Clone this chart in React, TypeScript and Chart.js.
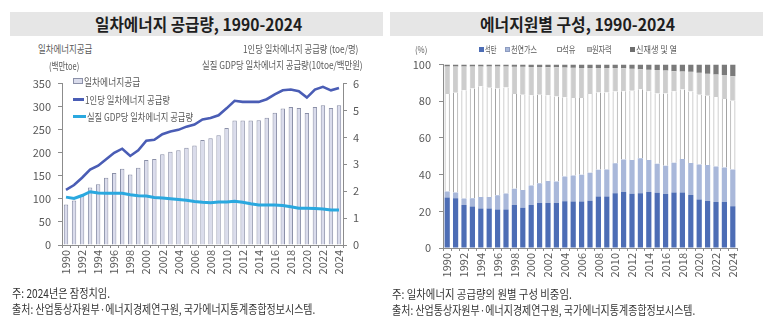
import React, { useEffect, useLayoutEffect, useRef } from 'react';
import { Chart, registerables } from 'chart.js';
Chart.register(...registerables);

const FONT = '"Noto Sans CJK KR", "Noto Sans", sans-serif';
const AXIS = '#8c8c8c';
const TICK = '#595959';

const years = ['1990','1991','1992','1993','1994','1995','1996','1997','1998','1999','2000','2001','2002','2003','2004','2005','2006','2007','2008','2009','2010','2011','2012','2013','2014','2015','2016','2017','2018','2019','2020','2021','2022','2023','2024'];

// 일차에너지공급 (백만toe)
const supply = [88,96.5,107,124.5,131.5,146,156,165.5,153,167.5,184.5,186.5,197,202,205.5,211,215.5,227.5,231.5,238,253.5,270,270,270,270.5,276,287,296,299.5,297,286,299.5,303,297,303];
// 1인당 일차에너지 공급량 (toe/명)
const perCapita = [2.05,2.23,2.5,2.8,2.95,3.19,3.43,3.58,3.31,3.52,3.88,3.91,4.12,4.22,4.28,4.4,4.48,4.67,4.72,4.82,5.08,5.36,5.32,5.32,5.32,5.42,5.6,5.75,5.78,5.72,5.48,5.78,5.88,5.75,5.84];
// 실질 GDP당 일차에너지 공급량 (10toe/백만원)
const perGdp = [1.78,1.73,1.84,1.98,1.93,1.92,1.92,1.92,1.87,1.83,1.82,1.77,1.75,1.72,1.69,1.66,1.62,1.59,1.57,1.6,1.6,1.63,1.59,1.53,1.49,1.49,1.49,1.47,1.42,1.37,1.37,1.36,1.34,1.3,1.3];

// 에너지원별 구성 (%)
const coal = [27.6,27.1,23.5,22.6,21.5,21.5,21.0,21.0,23.5,22.0,23.5,24.6,24.6,24.6,25.5,25.3,25.4,25.7,28.1,28.1,29.9,30.6,29.6,29.9,30.6,30.1,29.4,30.3,30.3,28.9,26.5,25.6,25.1,25.1,22.8];
const gas = [3.2,3.2,3.5,4.5,6.3,6.3,7.7,8.7,8.8,9.6,10.6,10.7,12.0,11.6,13.5,14.2,14.6,15.3,14.6,14.7,16.3,17.6,18.4,19.0,17.4,15.8,15.5,16.2,18.2,17.5,19.0,19.7,19.3,18.8,20.0];
const oil = [53.2,54.4,59.0,59.9,60.4,59.6,58.3,57.8,51.7,51.9,49.2,48.2,46.7,46.4,43.2,42.3,41.8,43.0,42.1,42.0,39.1,37.3,37.7,37.7,37.5,38.3,39.3,39.0,37.9,38.9,38.0,37.7,38.0,37.3,37.5];
const nuclear = [15.0,14.3,13.0,12.0,10.8,11.6,12.0,11.4,14.8,15.3,15.4,15.2,15.3,15.9,16.2,16.5,16.4,14.2,13.4,13.4,12.8,12.5,12.1,10.8,11.7,12.8,12.6,10.9,9.9,10.8,12.0,12.0,12.2,13.1,13.4];
const renew = [1.0,1.0,1.0,1.0,1.0,1.0,1.0,1.1,1.2,1.2,1.3,1.3,1.4,1.5,1.6,1.7,1.8,1.8,1.8,1.8,1.9,2.0,2.2,2.6,2.8,3.0,3.2,3.6,3.7,3.9,4.5,5.0,5.4,5.7,6.3];

const leftTitle = '일차에너지 공급량, 1990-2024';
const rightTitle = '에너지원별 구성, 1990-2024';

type Anchor = 'left' | 'center' | 'right';
function Txt(props: { text: string; x: number; y: number; w: number; anchor?: Anchor; size?: number; weight?: number; color?: string }) {
  const { text, x, y, w, anchor = 'left', size = 10, weight = 400, color = '#595959' } = props;
  const ref = useRef<HTMLSpanElement>(null);
  useLayoutEffect(() => {
    const el = ref.current;
    if (!el) return;
    const fit = () => {
      const natural = el.offsetWidth || 1;
      const s = w / natural;
      const left = anchor === 'left' ? x : anchor === 'center' ? x - w / 2 : x - w;
      el.style.left = left + 'px';
      el.style.transform = `scaleX(${s})`;
    };
    fit();
    if ((document as any).fonts && (document as any).fonts.ready) (document as any).fonts.ready.then(fit);
  }, [text, x, y, w, anchor, size]);
  const lh = Math.round(size * 1.5);
  return (
    <span
      ref={ref}
      style={{
        position: 'absolute', top: y - lh / 2, left: x, whiteSpace: 'nowrap', fontSize: size,
        fontWeight: weight, color, lineHeight: lh + 'px', transformOrigin: '0 50%', fontFamily: FONT,
      }}
    >
      {text}
    </span>
  );
}

function xTickOpts() {
  return {
    autoSkip: false, maxRotation: 90, minRotation: 90, padding: 2,
    color: TICK, font: { size: 11, family: FONT },
    callback: (_v: any, i: number) => (i % 2 === 0 ? years[i] : ''),
  };
}

function LeftChart() {
  const ref = useRef<HTMLCanvasElement>(null);
  useEffect(() => {
    const chart = new Chart(ref.current as HTMLCanvasElement, {
      type: 'bar',
      data: {
        labels: years,
        datasets: [
          { type: 'line', label: '1인당 일차에너지 공급량', data: perCapita, yAxisID: 'y1', borderColor: '#4a5db5', backgroundColor: '#4a5db5', borderWidth: 2.6, pointRadius: 0, tension: 0, order: 0 } as any,
          { type: 'line', label: '실질 GDP당 일차에너지 공급량', data: perGdp, yAxisID: 'y1', borderColor: '#2aa8df', backgroundColor: '#2aa8df', borderWidth: 3, pointRadius: 0, tension: 0, order: 1 } as any,
          { type: 'bar', label: '일차에너지공급', data: supply, yAxisID: 'y', backgroundColor: '#dadcec', borderColor: '#8b90a8', borderWidth: 1, barPercentage: 0.55, categoryPercentage: 1, order: 2 } as any,
        ],
      },
      options: {
        responsive: false, animation: false, maintainAspectRatio: false,
        layout: { padding: { top: 9, left: 0, right: 0, bottom: 0 } },
        plugins: { legend: { display: false }, tooltip: { enabled: false } },
        scales: {
          x: {
            grid: { display: true, drawOnChartArea: false, drawTicks: true, tickLength: 3, color: AXIS, offset: true },
            border: { display: true, color: AXIS },
            ticks: xTickOpts() as any,
            afterFit: (s: any) => { s.height = 45; },
          },
          y: {
            position: 'left', min: 0, max: 350,
            ticks: { stepSize: 50, color: TICK, padding: 7, font: { size: 11, family: FONT } },
            grid: { drawOnChartArea: false, drawTicks: true, tickLength: 4, color: AXIS },
            border: { display: true, color: AXIS },
            afterFit: (s: any) => { s.width = 62; },
          },
          y1: {
            position: 'right', min: 0, max: 6,
            ticks: { stepSize: 1, color: TICK, padding: 6, font: { size: 11, family: FONT } },
            grid: { drawOnChartArea: false, drawTicks: true, tickLength: 4, color: AXIS },
            border: { display: true, color: AXIS },
            afterFit: (s: any) => { s.width = 47; },
          },
        },
      } as any,
    });
    return () => chart.destroy();
  }, []);
  return <canvas ref={ref} width={390} height={220} style={{ position: 'absolute', left: 0, top: 70, width: 390, height: 220 }} />;
}

function RightChart() {
  const ref = useRef<HTMLCanvasElement>(null);
  useEffect(() => {
    const common = { barPercentage: 0.62, categoryPercentage: 1, borderSkipped: false };
    const chart = new Chart(ref.current as HTMLCanvasElement, {
      type: 'bar',
      data: {
        labels: years,
        datasets: [
          { label: '석탄', data: coal, backgroundColor: '#4d6db5', borderWidth: 0, ...common } as any,
          { label: '천연가스', data: gas, backgroundColor: '#a9b8da', borderWidth: 0, ...common } as any,
          { label: '석유', data: oil, backgroundColor: '#ffffff', borderColor: '#a3a3a3', borderWidth: { left: 1, right: 1, top: 0, bottom: 0 }, ...common } as any,
          { label: '원자력', data: nuclear, backgroundColor: '#cdcdcd', borderColor: '#b0b0b0', borderWidth: { left: 0.6, right: 0.6, top: 0, bottom: 0 }, ...common } as any,
          { label: '신재생 및 열', data: renew, backgroundColor: '#7a7a7a', borderWidth: 0, ...common } as any,
        ],
      },
      options: {
        responsive: false, animation: false, maintainAspectRatio: false,
        layout: { padding: { top: 12, left: 0, right: 13, bottom: 0 } },
        plugins: { legend: { display: false }, tooltip: { enabled: false } },
        scales: {
          x: {
            stacked: true,
            grid: { display: true, drawOnChartArea: false, drawTicks: true, tickLength: 3, color: AXIS, offset: true },
            border: { display: true, color: AXIS },
            ticks: xTickOpts() as any,
            afterFit: (s: any) => { s.height = 42; },
          },
          y: {
            stacked: true, min: 0, max: 100,
            ticks: { stepSize: 20, color: TICK, padding: 8, font: { size: 11, family: FONT } },
            grid: { drawOnChartArea: false, drawTicks: true, tickLength: 4, color: AXIS },
            border: { display: true, color: AXIS },
            afterFit: (s: any) => { s.width = 53; },
          },
        },
      } as any,
    });
    return () => chart.destroy();
  }, []);
  return <canvas ref={ref} width={360} height={240} style={{ position: 'absolute', left: 390, top: 50, width: 360, height: 240 }} />;
}

function Sq(props: { x: number; y: number; fill: string; stroke?: string }) {
  return (
    <div style={{ position: 'absolute', left: props.x, top: props.y - 2.5, width: 5, height: 5, boxSizing: 'border-box', background: props.fill, border: props.stroke ? `1px solid ${props.stroke}` : 'none' }} />
  );
}

export default function App() {
  return (
    <div style={{ position: 'fixed', left: 0, top: 0, width: 780, height: 324, background: '#ffffff', overflow: 'hidden', fontFamily: FONT }}>
      {/* title bars */}
      <div style={{ position: 'absolute', left: 10, top: 12, width: 373, height: 24, background: '#e6e6e6' }} />
      <div style={{ position: 'absolute', left: 390, top: 12, width: 373, height: 24, background: '#e6e6e6' }} />
      <Txt text={leftTitle} x={198.5} y={24.5} w={207} anchor="center" size={16.5} weight={700} color="#1e1e1e" />
      <Txt text={rightTitle} x={577.5} y={24.5} w={195} anchor="center" size={16.5} weight={700} color="#1e1e1e" />

      <LeftChart />
      <RightChart />

      {/* left axis titles */}
      <Txt text="일차에너지공급" x={38} y={48} w={54} size={10} />
      <Txt text="(백만toe)" x={49} y={65} w={30} size={10} />
      <Txt text="1인당 일차에너지 공급량 (toe/명)" x={358} y={48} w={115} anchor="right" size={10} />
      <Txt text="실질 GDP당 일차에너지 공급량(10toe/백만원)" x={363} y={64} w={161} anchor="right" size={10} />

      {/* left legend */}
      <div style={{ position: 'absolute', left: 73, top: 78, width: 10, height: 6, boxSizing: 'border-box', background: '#dadcec', border: '1px solid #8b90a8' }} />
      <Txt text="일차에너지공급" x={84} y={81} w={56} size={10} />
      <div style={{ position: 'absolute', left: 73, top: 98, width: 11, height: 2.6, background: '#4a5db5' }} />
      <Txt text="1인당 일차에너지 공급량" x={85} y={99} w={85} size={10} />
      <div style={{ position: 'absolute', left: 73, top: 114.5, width: 13, height: 3, background: '#2aa8df' }} />
      <Txt text="실질 GDP당 일차에너지 공급량" x={87} y={116} w={106} size={10} />

      {/* right axis title & legend */}
      <Txt text="(%)" x={415} y={50} w={12} size={9} />
      <Sq x={479} y={49} fill="#4d6db5" />
      <Txt text="석탄" x={485} y={49} w={11} size={9.5} />
      <Sq x={505} y={49} fill="#a9b8da" stroke="#8d9cc0" />
      <Txt text="천연가스" x={510.5} y={49} w={26} size={9.5} />
      <Sq x={556.5} y={49} fill="#ffffff" stroke="#8c8c8c" />
      <Txt text="석유" x={562} y={49} w={13} size={9.5} />
      <Sq x={586.5} y={49} fill="#cdcdcd" stroke="#9c9c9c" />
      <Txt text="원자력" x={592} y={49} w={19.5} size={9.5} />
      <Sq x={630} y={49} fill="#6e6e6e" />
      <Txt text="신재생 및 열" x={635.5} y={49} w={41} size={9.5} />

      {/* notes */}
      <Txt text="주: 2024년은 잠정치임." x={12} y={293} w={98} size={12} color="#333333" />
      <Txt text="출처: 산업통상자원부·에너지경제연구원, 국가에너지통계종합정보시스템." x={12} y={309} w={303} size={12} color="#333333" />
      <Txt text="주: 일차에너지 공급량의 원별 구성 비중임." x={392} y={294} w={180} size={12} color="#333333" />
      <Txt text="출처: 산업통상자원부·에너지경제연구원, 국가에너지통계종합정보시스템." x={392} y={310} w={303} size={12} color="#333333" />
    </div>
  );
}
